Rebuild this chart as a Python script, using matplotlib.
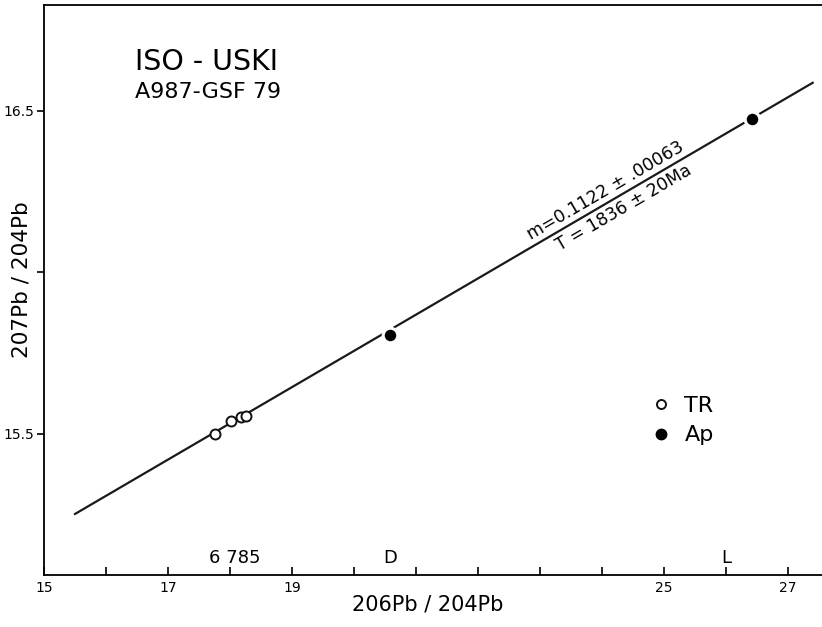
import numpy as np
import matplotlib
matplotlib.use("Agg")
import matplotlib.pyplot as plt
import matplotlib.transforms as mtransforms
from matplotlib.lines import Line2D

plt.rcParams['font.family'] = ['DejaVu Sans']

# ---- data ----
tr_x = [17.76, 18.02, 18.18, 18.26]
tr_y = [15.500, 15.540, 15.553, 15.556]
ap_x = [20.58, 26.42]
ap_y = [15.806, 16.475]

# regression line (isochron)
slope = 0.1122
line_x = [15.50, 27.40]
line_y0 = 15.252  # y at line_x[0]

sample_labels = ["6 785", "D", "L"]
sample_label_x = [18.08, 20.58, 26.0]

xticks = list(range(15, 28))
xticklabels = ["15", "", "17", "", "19", "", "", "", "", "", "25", "", "27"]
yticks = [15.5, 16.0, 16.5]
yticklabels = ["15.5", "", "16.5"]

title1 = "ISO - USKI"
title2 = "A987-GSF 79"
m_text = "m=0.1122 ± .00063"
t_text = "T = 1836 ± 20Ma"

# ---- figure ----
W, H = 822, 627
fig = plt.figure(figsize=(W / 100, H / 100), dpi=100)
left, right, top, bottom = 44, 822, 5, 575
ax = fig.add_axes([left / W, 1 - bottom / H, (right - left) / W, (bottom - top) / H])
ax.set_xlim(15, 27.55)
ax.set_ylim(15.063, 16.828)

for s in ["left", "bottom", "top"]:
    ax.spines[s].set_linewidth(1.3)
ax.spines["right"].set_visible(False)

ax.set_xticks(xticks)
ax.set_xticklabels(xticklabels)
ax.set_yticks(yticks)
ax.set_yticklabels(yticklabels)
ax.tick_params(axis="x", direction="in", length=5.5, width=1.2, labelsize=10, pad=4)
ax.tick_params(axis="y", direction="out", length=5, width=1.2, labelsize=10, pad=2)

# line
ly = [line_y0, line_y0 + slope * (line_x[1] - line_x[0])]
ax.plot(line_x, ly, color="#1a1a1a", lw=1.6, zorder=2)

# points
ax.plot(tr_x, tr_y, linestyle="none", marker="o", ms=7.2, mfc="white",
        mec="#111111", mew=1.4, zorder=3, label="TR")
ax.plot(ap_x, ap_y, linestyle="none", marker="o", ms=10.5, mfc="#000000",
        mec="white", mew=2.2, zorder=3, label="Ap")

# legend
h_tr = Line2D([], [], linestyle="none", marker="o", ms=6.5, mfc="white", mec="#111111", mew=1.4)
h_ap = Line2D([], [], linestyle="none", marker="o", ms=7.5, mfc="#000000", mec="#000000")
ax.legend([h_tr, h_ap], ["TR", "Ap"], loc="upper left",
          bbox_to_anchor=((651 - left) / (right - left), (bottom - 396) / (bottom - top)),
          frameon=False, fontsize=16, handlelength=0.9, handletextpad=0.6,
          labelspacing=0.42, borderpad=0, borderaxespad=0)

# title texts
ax.text((135 - left) / (right - left), (bottom - 70) / (bottom - top), title1,
        transform=ax.transAxes, fontsize=20.5, va="baseline", ha="left")
ax.text((135 - left) / (right - left), (bottom - 98) / (bottom - top), title2,
        transform=ax.transAxes, fontsize=16, va="baseline", ha="left")

# sample labels along the axis
trans = mtransforms.blended_transform_factory(ax.transData, ax.transAxes)
for lab, x in zip(sample_labels, sample_label_x):
    ax.text(x, (bottom - 563) / (bottom - top), lab, transform=trans,
            fontsize=13, ha="center", va="baseline")

# slope annotations rotated along the line
p0 = ax.transData.transform((line_x[0], ly[0]))
p1 = ax.transData.transform((line_x[1], ly[1]))
ang = np.degrees(np.arctan2(p1[1] - p0[1], p1[0] - p0[0]))
xa = 24.15
ya = line_y0 + slope * (xa - line_x[0])
th = np.radians(ang)
nx, ny = -np.sin(th), np.cos(th)
ax.annotate(m_text, (xa, ya), xytext=(nx * 2, ny * 2), textcoords="offset points",
            rotation=ang, rotation_mode="anchor", ha="center", va="bottom", fontsize=12.5)
ax.annotate(t_text, (xa + 0.1, ya + slope * 0.1), xytext=(-nx * 2.5, -ny * 2.5),
            textcoords="offset points",
            rotation=ang, rotation_mode="anchor", ha="center", va="top", fontsize=12.5)

# axis labels
ax.set_xlabel("206Pb / 204Pb", fontsize=15)
ax.xaxis.set_label_coords((428 - left) / (right - left), (bottom - 595) / (bottom - top))
ax.set_ylabel("207Pb / 204Pb", fontsize=15.5)
ax.yaxis.set_label_coords((31 - left) / (right - left), (bottom - 280) / (bottom - top))

fig.savefig("out.png", dpi=100)
